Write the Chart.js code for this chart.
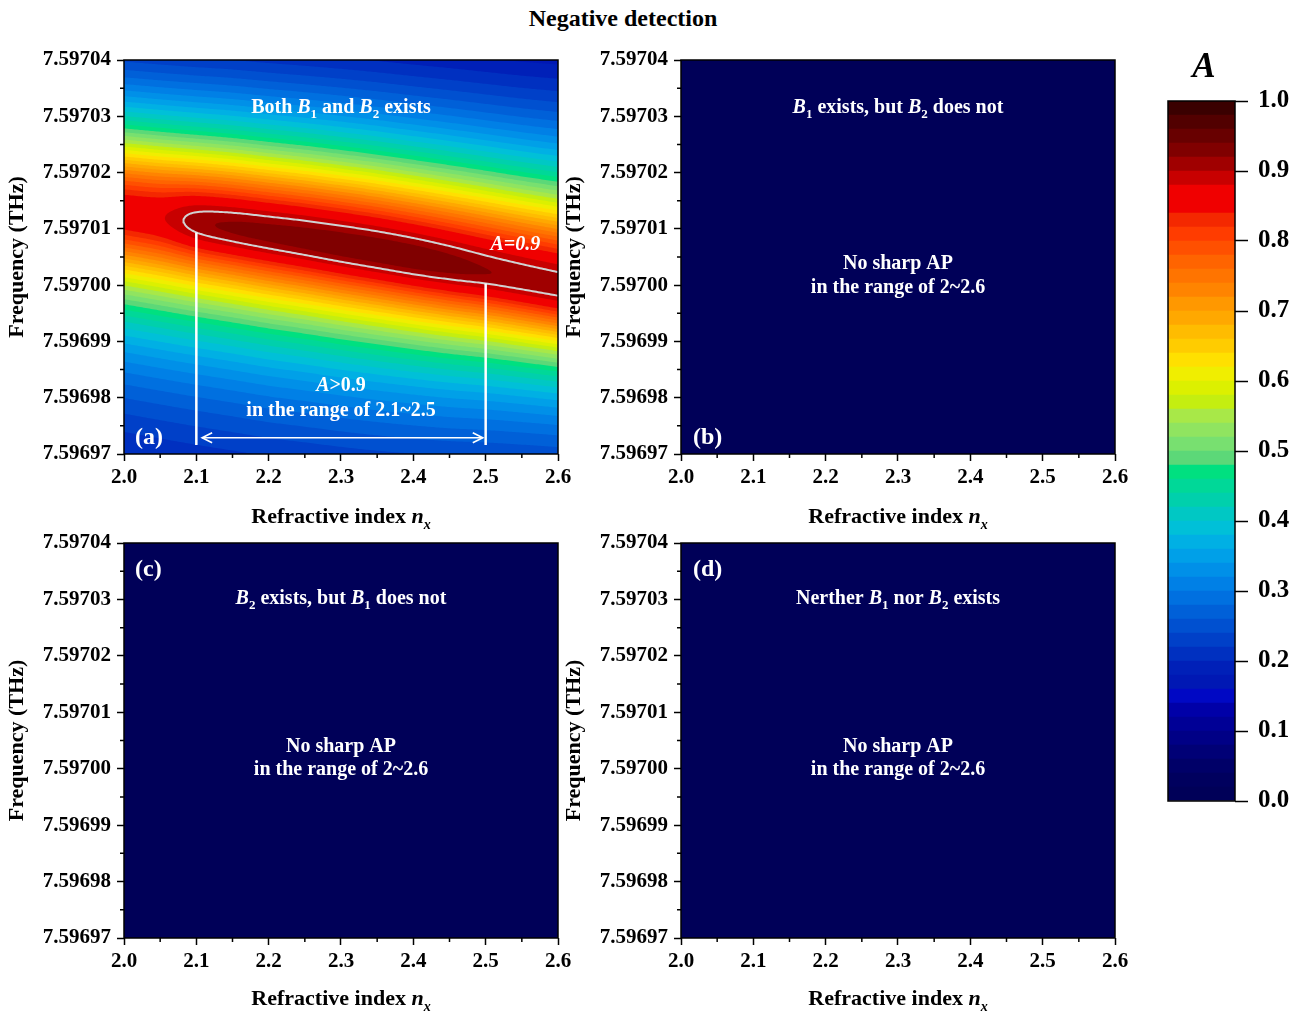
<!DOCTYPE html>
<html>
<head>
<meta charset="utf-8">
<title>Negative detection</title>
<script src="https://cdn.jsdelivr.net/npm/chart.js@4.4.1/dist/chart.umd.min.js"></script>
<style>
  html, body { margin: 0; padding: 0; background: #fff; }
  #page { position: relative; width: 1308px; height: 1015px; overflow: hidden; }
  #page canvas { position: absolute; }
  #title {
    position: absolute; left: 0; top: 5px; width: 1246px; line-height: 26px;
    text-align: center; font: bold 24px 'Liberation Serif', 'Times New Roman', serif; color: #000;
  }
</style>
</head>
<body>
<div id="page">
  <div id="title">Negative detection</div>
  <canvas id="panelA" width="600" height="495" style="left:0;top:40px"></canvas>
  <canvas id="panelB" width="600" height="495" style="left:557px;top:40px"></canvas>
  <canvas id="panelC" width="600" height="492" style="left:0;top:523px"></canvas>
  <canvas id="panelD" width="600" height="492" style="left:557px;top:523px"></canvas>
  <canvas id="colorbar" width="168" height="790" style="left:1140px;top:40px"></canvas>
</div>
<script>
const SERIF = "'Liberation Serif', 'Times New Roman', serif";
Chart.defaults.font.family = SERIF;

// ---- absorption ridge of panel (a), sampled every 0.05 in n_x ----
const nxCols = [2.00, 2.05, 2.10, 2.15, 2.20, 2.25, 2.30, 2.35, 2.40, 2.45, 2.50, 2.55, 2.60];
// frequency of maximum absorptance (THz)
const ridgeFreq = [7.5970129, 7.5970120, 7.5970111, 7.5970102, 7.5970092, 7.5970082, 7.5970071,
                   7.5970060, 7.5970048, 7.5970036, 7.5970024, 7.5970011, 7.5969998];
// absorptance on the ridge itself
const ridgePeak = [0.870, 0.877, 0.912, 0.924, 0.929, 0.933, 0.936, 0.937, 0.936, 0.930, 0.921, 0.917, 0.915];
// level of the broad wings, which vary more slowly than the ridge top
const wingLevel = [0.874, 0.888, 0.901, 0.912, 0.921, 0.928, 0.933, 0.935, 0.934, 0.930, 0.924, 0.919, 0.915];
// half widths of the wings (MHz) above and below the ridge
const halfUp   = [16.5, 16.55, 16.65, 16.8, 16.95, 17.15, 17.4, 17.65, 17.95, 18.3, 18.65, 19.05, 19.5];
const halfDown = [11.6, 11.5, 11.4, 11.3, 11.2, 11.05, 10.9, 10.75, 10.55, 10.35, 10.1, 9.85, 9.6];
// wing exponents: Lorentzian above, slower tail below
const tailUp = 1.0;
const tailDown = 0.55;
// panels (b)-(d): no absorption peak in the window
const flatPeak = [0, 0, 0, 0, 0, 0, 0, 0, 0, 0, 0, 0, 0];

// ---- axes ----
const nxTicks = [2.0, 2.1, 2.2, 2.3, 2.4, 2.5, 2.6];
const nxMinor = [2.05, 2.15, 2.25, 2.35, 2.45, 2.55];
const freqTicks = [7.59697, 7.59698, 7.59699, 7.59700, 7.59701, 7.59702, 7.59703, 7.59704];
const freqMinor = [7.596975, 7.596985, 7.596995, 7.597005, 7.597015, 7.597025, 7.597035];
const barTicks = [0.0, 0.1, 0.2, 0.3, 0.4, 0.5, 0.6, 0.7, 0.8, 0.9, 1.0];

// ---- contour levels: band k covers [k*levelStep, (k+1)*levelStep) ----
const levelStep = 0.02;
const levelColors = [
  '#000058', '#00005e', '#000068', '#000076', '#000086', '#000096', '#0000a8', '#0008c4',
  '#0018b4', '#0020b8', '#0030c0', '#0040c8', '#0050d0', '#0060d8', '#0070e0', '#0080e6',
  '#0090e8', '#00a0e8', '#00b0e4', '#00c0d8', '#00c8c4', '#00d0ac', '#00d898', '#00e080',
  '#5cd878', '#78e070', '#90e460', '#a8e848', '#c4ee10', '#dcf000', '#f0ee00', '#ffe000',
  '#ffcc00', '#ffbc00', '#ffa800', '#ff9800', '#ff8400', '#ff7400', '#ff6400', '#ff5000',
  '#ff3c00', '#f42800', '#f00000', '#f00000', '#c80000', '#a00000', '#800000', '#680000',
  '#520000', '#3a0000'
];

// ---- annotations of panel (a) ----
const markLevel = 0.9;             // grey contour "A=0.9"
const rangeEdges = [2.1, 2.5];     // n_x range with A > 0.9
const arrowSpan = [2.108, 2.496];
const arrowFreq = 7.5969729;
const lineFoot = 7.5969716;

const xMin = nxTicks[0], xMax = nxTicks[nxTicks.length - 1];
const yMin = freqTicks[0], yMax = freqTicks[freqTicks.length - 1];
const xSamples = [];
for (let i = 0; i <= 240; i++) xSamples.push(xMin + (xMax - xMin) * i / 240);

// monotone cubic (Fritsch-Carlson) through the sampled columns
function monotone(xs, ys) {
  const n = xs.length, d = [], m = [];
  for (let i = 0; i < n - 1; i++) d.push((ys[i + 1] - ys[i]) / (xs[i + 1] - xs[i]));
  m[0] = d[0]; m[n - 1] = d[n - 2];
  for (let i = 1; i < n - 1; i++) m[i] = d[i - 1] * d[i] <= 0 ? 0 : (d[i - 1] + d[i]) / 2;
  for (let i = 0; i < n - 1; i++) {
    if (d[i] === 0) { m[i] = 0; m[i + 1] = 0; continue; }
    const a = m[i] / d[i], b = m[i + 1] / d[i], s = a * a + b * b;
    if (s > 9) { const t = 3 / Math.sqrt(s); m[i] = t * a * d[i]; m[i + 1] = t * b * d[i]; }
  }
  return x => {
    let i = 0;
    while (i < n - 2 && x > xs[i + 1]) i++;
    const h = xs[i + 1] - xs[i], t = (x - xs[i]) / h, t2 = t * t, t3 = t2 * t;
    return (2 * t3 - 3 * t2 + 1) * ys[i] + (t3 - 2 * t2 + t) * h * m[i] +
           (-2 * t3 + 3 * t2) * ys[i + 1] + (t3 - t2) * h * m[i + 1];
  };
}

function sampler(field) {
  const p = monotone(nxCols, field.peak), wl = monotone(nxCols, field.wing), c = monotone(nxCols, field.freq);
  const wu = monotone(nxCols, field.halfUp), wd = monotone(nxCols, field.halfDown);
  return x => ({ p: p(x), t: wl(x), c: c(x), wu: wu(x) * 1e-6, wd: wd(x) * 1e-6 });
}

// line shape g = (1 + (d/w)^2)^-q; A = T*g + (P - T)*g^6 (narrow top on broad wings)
// returns the offset d (THz) from the ridge where A falls to `level`
function reach(s, w, q, level) {
  const val = g => s.t * g + (s.p - s.t) * Math.pow(g, 6);
  let lo = 0, hi = 1;
  for (let i = 0; i < 40; i++) {
    const g = (lo + hi) / 2;
    if (val(g) > level) hi = g; else lo = g;
  }
  const g = (lo + hi) / 2;
  if (g <= 0) return 2e-4;
  return Math.min(w * Math.sqrt(Math.pow(g, -1 / q) - 1), 2e-4);
}

function crossAt(at, xa, xb, level) {
  const inA = at(xa).p > level;
  for (let i = 0; i < 30; i++) {
    const xm = (xa + xb) / 2;
    if ((at(xm).p > level) === inA) xa = xm; else xb = xm;
  }
  return (xa + xb) / 2;
}

// outline(s) of the region A > level
function bandOutlines(at, level) {
  const segs = [];
  let cur = null, prevX = null, prevIn = false;
  for (const x of xSamples) {
    const s = at(x);
    const inside = s.p > level;
    if (inside && !prevIn) {
      cur = { upper: [], lower: [] };
      segs.push(cur);
      if (prevX !== null) {
        const xc = crossAt(at, prevX, x, level), c = at(xc).c;
        cur.upper.push({ x: xc, y: c }); cur.lower.push({ x: xc, y: c });
      }
    }
    if (inside) {
      cur.upper.push({ x, y: s.c + reach(s, s.wu, tailUp, level) });
      cur.lower.push({ x, y: s.c - reach(s, s.wd, tailDown, level) });
    } else if (prevIn) {
      const xc = crossAt(at, prevX, x, level), c = at(xc).c;
      cur.upper.push({ x: xc, y: c }); cur.lower.push({ x: xc, y: c });
      cur = null;
    }
    prevX = x; prevIn = inside;
  }
  return segs;
}

function contourDatasets(field) {
  const at = sampler(field);
  const sets = [];
  // highest level first: Chart.js paints dataset 0 last
  for (let k = levelColors.length - 1; k >= 0; k--) {
    const segs = k === 0
      ? [{ upper: [{ x: xMin, y: yMax + 1e-5 }, { x: xMax, y: yMax + 1e-5 }],
           lower: [{ x: xMin, y: yMin - 1e-5 }, { x: xMax, y: yMin - 1e-5 }] }]
      : bandOutlines(at, k * levelStep);
    segs.forEach(seg => {
      sets.push({ data: seg.upper, fill: '+1', backgroundColor: levelColors[k], borderWidth: 0, pointRadius: 0 });
      sets.push({ data: seg.lower, fill: false, borderWidth: 0, pointRadius: 0 });
    });
  }
  return sets;
}

function overlayDatasets(field) {
  const at = sampler(field);
  const sets = [{
    data: arrowSpan.map(x => ({ x, y: arrowFreq })),
    borderColor: '#ffffff', borderWidth: 1.6, fill: false, pointRadius: 0, arrowHeads: true
  }];
  rangeEdges.forEach(x => {
    const s = at(x);
    sets.push({
      data: [{ x, y: s.c - reach(s, s.wd, tailDown, markLevel) }, { x, y: lineFoot }],
      borderColor: '#ffffff', borderWidth: 2.5, fill: false, pointRadius: 0
    });
  });
  bandOutlines(at, markLevel).forEach(seg => {
    sets.push({
      data: seg.lower.slice().reverse().concat(seg.upper),
      borderColor: '#d2d2d2', borderWidth: 2, fill: false, pointRadius: 0
    });
  });
  return sets;
}

// text with *italic* runs and _x one-letter subscripts
function drawRich(ctx, markup, cx, cy, size, color, align) {
  const runs = [];
  let italic = false, buf = '';
  const flush = () => { if (buf) runs.push({ text: buf, italic, sub: false }); buf = ''; };
  for (let i = 0; i < markup.length; i++) {
    const ch = markup[i];
    if (ch === '*') { flush(); italic = !italic; }
    else if (ch === '_') { flush(); runs.push({ text: markup[++i], italic, sub: true }); }
    else buf += ch;
  }
  flush();
  const fontOf = r => (r.italic ? 'italic ' : '') + 'bold ' + (r.sub ? Math.round(size * 0.64) : size) + 'px ' + SERIF;
  let w = 0;
  runs.forEach(r => { ctx.font = fontOf(r); r.w = ctx.measureText(r.text).width; w += r.w; });
  let x = align === 'left' ? cx : cx - w / 2;
  const base = cy + size * 0.33;
  ctx.save();
  ctx.fillStyle = color;
  ctx.textAlign = 'left';
  ctx.textBaseline = 'alphabetic';
  runs.forEach(r => {
    ctx.font = fontOf(r);
    ctx.fillText(r.text, x, base + (r.sub ? size * 0.24 : 0));
    x += r.w;
  });
  ctx.restore();
}

function notesPlugin(items, xTitle, xGap) {
  return {
    id: 'notes',
    afterDatasetsDraw(chart) {
      const { ctx, chartArea: a, scales } = chart;
      items.forEach(n => {
        const x = n.px !== undefined ? n.px : scales.x.getPixelForValue(n.x);
        const y = n.py !== undefined ? n.py : scales.y.getPixelForValue(n.y);
        drawRich(ctx, n.text, x, y, n.size || 20, n.color || '#ffffff', n.align || 'center');
      });
      if (xTitle) drawRich(ctx, xTitle, (a.left + a.right) / 2, a.bottom + xGap, 22, '#000000', 'center');
    }
  };
}

const arrowPlugin = {
  id: 'arrowHeads',
  afterDatasetsDraw(chart) {
    const { ctx } = chart;
    chart.data.datasets.forEach((ds, i) => {
      if (!ds.arrowHeads) return;
      const pts = chart.getDatasetMeta(i).data;
      const a = pts[0], b = pts[pts.length - 1];
      ctx.save();
      ctx.strokeStyle = ds.borderColor;
      ctx.lineWidth = ds.borderWidth;
      ctx.beginPath();
      ctx.moveTo(a.x + 10, a.y - 5); ctx.lineTo(a.x, a.y); ctx.lineTo(a.x + 10, a.y + 5);
      ctx.moveTo(b.x - 10, b.y - 5); ctx.lineTo(b.x, b.y); ctx.lineTo(b.x - 10, b.y + 5);
      ctx.stroke();
      ctx.restore();
    });
  }
};

// box round the plot area plus the short minor ticks
function framePlugin(minorX, minorY) {
  return {
    id: 'frame',
    afterDraw(chart) {
      const { ctx, chartArea: a, scales } = chart;
      ctx.save();
      ctx.strokeStyle = '#000';
      ctx.lineWidth = 1.5;
      ctx.beginPath();
      minorX.forEach(v => {
        const px = scales.x.getPixelForValue(v);
        ctx.moveTo(px, a.bottom); ctx.lineTo(px, a.bottom + 4);
      });
      minorY.forEach(v => {
        const py = scales.y.getPixelForValue(v);
        ctx.moveTo(a.left, py); ctx.lineTo(a.left - 4, py);
      });
      ctx.stroke();
      ctx.strokeRect(a.left, a.top, a.right - a.left, a.bottom - a.top);
      ctx.restore();
    }
  };
}

const tickFont = { family: SERIF, size: 21, weight: 'bold' };
const tickGrid = { drawOnChartArea: false, drawTicks: true, tickLength: 7, tickWidth: 1.5, tickColor: '#000' };

function panel(id, field, notes, xAxisH, xGap, withOverlay) {
  const datasets = (withOverlay ? overlayDatasets(field) : []).concat(contourDatasets(field));
  return new Chart(document.getElementById(id), {
    type: 'line',
    data: { datasets },
    options: {
      responsive: false,
      animation: false,
      events: [],
      layout: { padding: { top: 20, right: 42, bottom: 0, left: 0 } },
      elements: { point: { radius: 0, hoverRadius: 0 }, line: { tension: 0 } },
      plugins: { legend: { display: false }, tooltip: { enabled: false } },
      scales: {
        x: {
          type: 'linear', min: xMin, max: xMax,
          afterBuildTicks: s => { s.ticks = nxTicks.map(v => ({ value: v })); },
          afterFit: s => { s.height = xAxisH; },
          ticks: { font: tickFont, color: '#000', padding: 4, maxRotation: 0, autoSkip: false,
                   callback: v => Number(v).toFixed(1) },
          grid: tickGrid,
          border: { display: false }
        },
        y: {
          type: 'linear', min: yMin, max: yMax,
          afterBuildTicks: s => { s.ticks = freqTicks.map(v => ({ value: v })); },
          afterFit: s => { s.width = 124; },
          title: { display: true, text: 'Frequency (THz)', color: '#000',
                   font: { family: SERIF, size: 22, weight: 'bold' }, padding: { top: 4, bottom: 0 } },
          ticks: { font: tickFont, color: '#000', padding: 6, autoSkip: false,
                   callback: v => Number(v).toFixed(5) },
          grid: tickGrid,
          border: { display: false }
        }
      }
    },
    plugins: [arrowPlugin, notesPlugin(notes, 'Refractive index *n_x*', xGap), framePlugin(nxMinor, freqMinor)]
  });
}

const fieldA = { peak: ridgePeak, wing: wingLevel, freq: ridgeFreq, halfUp, halfDown };
const fieldNone = { peak: flatPeak, wing: flatPeak, freq: ridgeFreq, halfUp, halfDown };

panel('panelA', fieldA, [
  { x: 2.3, y: 7.5970318, text: 'Both *B*_1 and *B*_2 exists' },
  { x: 2.541, y: 7.5970075, text: '*A=0.9*' },
  { x: 2.3, y: 7.5969823, text: '*A*>0.9' },
  { x: 2.3, y: 7.5969780, text: 'in the range of 2.1~2.5' },
  { x: 2.0152, y: 7.5969732, text: '(a)', size: 24, align: 'left' }
], 81, 62, true);

panel('panelB', fieldNone, [
  { x: 2.3, y: 7.5970318, text: '*B*_1 exists, but *B*_2 does not' },
  { x: 2.3, y: 7.5970041, text: 'No sharp AP' },
  { x: 2.3, y: 7.5969998, text: 'in the range of 2~2.6' },
  { x: 2.0166, y: 7.5969732, text: '(b)', size: 24, align: 'left' }
], 81, 62, false);

panel('panelC', fieldNone, [
  { x: 2.0152, y: 7.5970356, text: '(c)', size: 24, align: 'left' },
  { x: 2.3, y: 7.5970303, text: '*B*_2 exists, but *B*_1 does not' },
  { x: 2.3, y: 7.5970042, text: 'No sharp AP' },
  { x: 2.3, y: 7.5970000, text: 'in the range of 2~2.6' }
], 77, 60, false);

panel('panelD', fieldNone, [
  { x: 2.0166, y: 7.5970356, text: '(d)', size: 24, align: 'left' },
  { x: 2.3, y: 7.5970303, text: 'Nerther *B*_1 nor *B*_2 exists' },
  { x: 2.3, y: 7.5970042, text: 'No sharp AP' },
  { x: 2.3, y: 7.5970000, text: 'in the range of 2~2.6' }
], 77, 60, false);

// colour scale: one stacked segment per contour band
new Chart(document.getElementById('colorbar'), {
  type: 'bar',
  data: {
    labels: [''],
    datasets: levelColors.map(c => ({
      data: [levelStep], backgroundColor: c, borderWidth: 0, barPercentage: 1, categoryPercentage: 1
    }))
  },
  options: {
    responsive: false,
    animation: false,
    events: [],
    layout: { padding: { left: 28, top: 61, bottom: 29, right: 0 } },
    plugins: { legend: { display: false }, tooltip: { enabled: false } },
    scales: {
      x: { display: false, stacked: true },
      y: {
        position: 'right', stacked: true, min: 0, max: 1,
        afterBuildTicks: s => { s.ticks = barTicks.map(v => ({ value: v })); },
        afterFit: s => { s.width = 73; },
        ticks: { font: { family: SERIF, size: 25, weight: 'bold' }, color: '#000', padding: 10,
                 callback: v => Number(v).toFixed(1) },
        grid: { drawOnChartArea: false, drawTicks: true, tickLength: 13, tickWidth: 1.5, tickColor: '#000' },
        border: { display: false }
      }
    }
  },
  plugins: [
    notesPlugin([{ px: 64, py: 25, text: '*A*', size: 35, color: '#000000' }], null, 0),
    framePlugin([], [])
  ]
});
</script>
</body>
</html>
